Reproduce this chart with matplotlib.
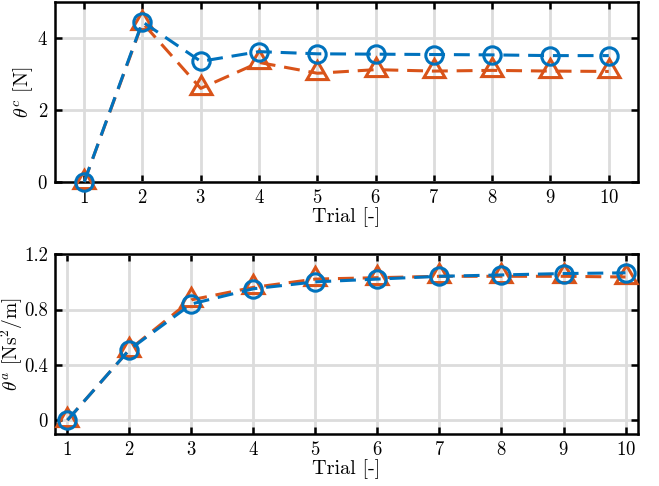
import matplotlib
matplotlib.use("Agg")
import matplotlib.pyplot as plt

plt.rcParams['font.family'] = 'serif'
plt.rcParams['font.serif'] = ['cmr10']
plt.rcParams['mathtext.fontset'] = 'cm'
plt.rcParams['axes.formatter.use_mathtext'] = True
plt.rcParams['axes.unicode_minus'] = False

trials = [1, 2, 3, 4, 5, 6, 7, 8, 9, 10]
theta_c_blue = [0.0, 4.45, 3.35, 3.62, 3.56, 3.55, 3.54, 3.53, 3.51, 3.51]
theta_c_orange = [0.0, 4.42, 2.60, 3.32, 3.02, 3.12, 3.08, 3.10, 3.08, 3.07]
theta_a_blue = [0.0, 0.51, 0.84, 0.95, 1.00, 1.02, 1.04, 1.05, 1.06, 1.065]
theta_a_orange = [0.0, 0.51, 0.87, 0.96, 1.02, 1.03, 1.04, 1.04, 1.04, 1.035]

blue = '#0072BD'
orange = '#D95319'

fig = plt.figure(figsize=(6.59, 4.86), dpi=100)
ax1 = fig.add_axes([0.0835, 0.6255, 0.8845, 0.3705])
ax2 = fig.add_axes([0.0835, 0.107, 0.8845, 0.370])

def style(ax):
    ax.grid(True, color='#dcdcdc', linewidth=2.0)
    ax.set_axisbelow(True)
    for s in ax.spines.values():
        s.set_linewidth(1.8)
    ax.tick_params(direction='in', top=True, right=True, width=1.8, length=5,
                   labelsize=13.5, pad=5)

dash = (5.2, 2.9)
lw = 2.2
ms_c = 12.5
ms_t = 17.5
mew = 2.2

def draw(ax, yo, yb):
    ax.plot(trials, yo, color=orange, linestyle='--', dashes=dash, linewidth=lw,
            marker=(3, 0, 0), markersize=ms_t, markerfacecolor='none', markeredgewidth=mew,
            zorder=3, clip_on=False)
    ax.plot(trials, yb, color=blue, linestyle='--', dashes=dash, linewidth=lw,
            marker='o', markersize=ms_c, markerfacecolor='none', markeredgewidth=mew,
            zorder=4, clip_on=False)

draw(ax1, theta_c_orange, theta_c_blue)
ax1.set_xlim(0.5, 10.5)
ax1.set_ylim(0, 5)
ax1.set_xticks(trials)
ax1.set_yticks([0, 2, 4])
ax1.set_xlabel('Trial [-]', fontsize=14.5, labelpad=0)
ax1.set_ylabel(r'$\theta^c$ [N]', fontsize=14.5)
ax1.yaxis.set_label_coords(-0.034, 0.5)
style(ax1)

draw(ax2, theta_a_orange, theta_a_blue)
ax2.set_xlim(0.8, 10.2)
ax2.set_ylim(-0.1, 1.2)
ax2.set_xticks(trials)
ax2.set_yticks([0, 0.4, 0.8, 1.2])
ax2.set_yticklabels(['0', '0.4', '0.8', '1.2'])
ax2.set_xlabel('Trial [-]', fontsize=14.5, labelpad=0)
ax2.set_ylabel(r'$\theta^a$ [Ns$^2$/m]', fontsize=14)
ax2.yaxis.set_label_coords(-0.051, 0.5)
style(ax2)

fig.savefig('out.png', dpi=100)
